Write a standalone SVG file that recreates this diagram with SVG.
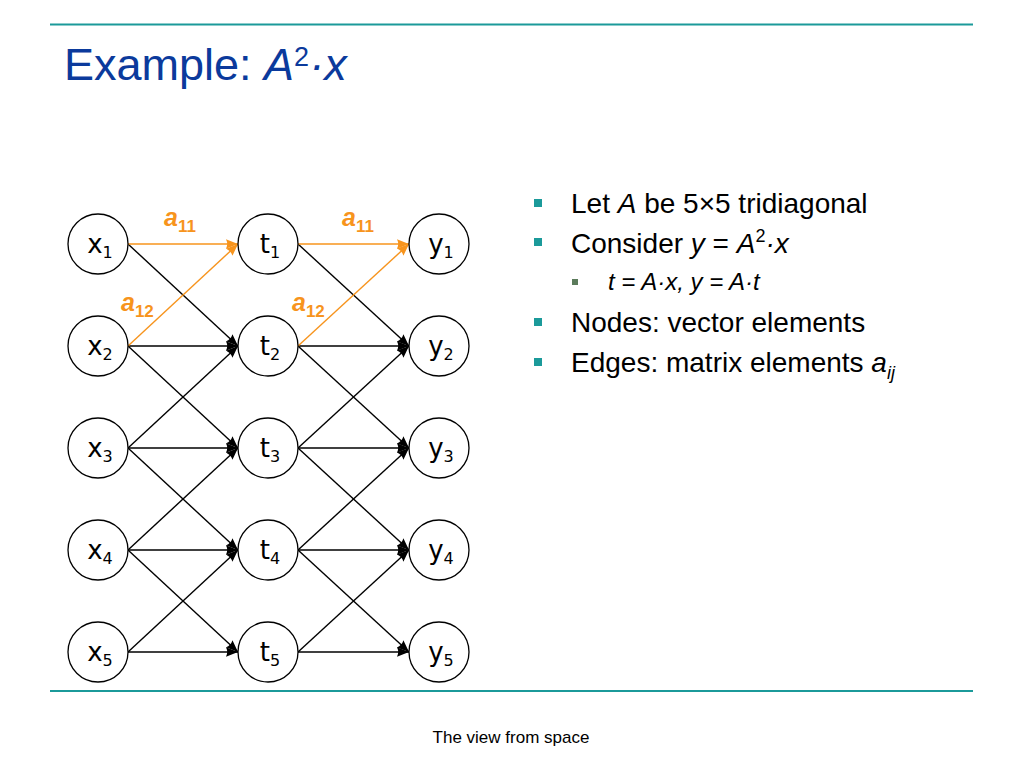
<svg xmlns="http://www.w3.org/2000/svg" width="1024" height="768" viewBox="0 0 1024 768">
<style>
.rule{stroke:#1b9a9a;stroke-width:2.2}
.node{fill:#fff;stroke:#000;stroke-width:1.3}
.nl{font-family:"DejaVu Sans",Verdana,sans-serif;font-size:26px;fill:#000;text-anchor:middle}
.sub{font-size:16px}
.e{stroke:#000;stroke-width:1.4;fill:none;marker-end:url(#ab)}
.o{stroke:#f7941d;stroke-width:1.4;fill:none;marker-end:url(#ao)}
.lab{font-family:"Liberation Sans",Arial,sans-serif;font-weight:bold;font-style:italic;fill:#f7941d;font-size:25px}
.lab .s{font-size:17px;font-style:normal}
.title{font-family:"Liberation Sans",Arial,sans-serif;font-size:45px;fill:#0b3a9c}
.b{font-family:"Liberation Sans",Arial,sans-serif;font-size:28px;fill:#000}
.sb{font-family:"Liberation Sans",Arial,sans-serif;font-size:24px;fill:#000;font-style:italic}
.i{font-style:italic}
.foot{font-family:"Liberation Sans",Arial,sans-serif;font-size:17px;fill:#000;text-anchor:middle}
</style>
<defs>
<marker id="ab" markerUnits="userSpaceOnUse" markerWidth="12" markerHeight="12" viewBox="0 0 10 10" refX="10" refY="5" orient="auto"><path d="M0,1 L10,5 L0,9 Q2,5 0,1 Z" fill="#000"/></marker>
<marker id="ao" markerUnits="userSpaceOnUse" markerWidth="12" markerHeight="12" viewBox="0 0 10 10" refX="10" refY="5" orient="auto"><path d="M0,1 L10,5 L0,9 Q2,5 0,1 Z" fill="#f7941d"/></marker>
</defs>
<rect width="1024" height="768" fill="#fff"/>
<line class="rule" x1="50" y1="24.5" x2="973" y2="24.5"/>
<line class="rule" x1="50" y1="691" x2="973" y2="691"/>
<text class="title" x="64" y="80">Example: <tspan class="i">A</tspan><tspan font-size="27" dy="-14">2</tspan><tspan class="i" dy="14">·x</tspan></text>

<g id="connectors">
<line class="e" x1="128" y1="244" x2="238" y2="346"/>
<line class="e" x1="128" y1="346" x2="238" y2="346"/>
<line class="e" x1="128" y1="346" x2="238" y2="448"/>
<line class="e" x1="128" y1="448" x2="238" y2="346"/>
<line class="e" x1="128" y1="448" x2="238" y2="448"/>
<line class="e" x1="128" y1="448" x2="238" y2="550"/>
<line class="e" x1="128" y1="550" x2="238" y2="448"/>
<line class="e" x1="128" y1="550" x2="238" y2="550"/>
<line class="e" x1="128" y1="550" x2="238" y2="652"/>
<line class="e" x1="128" y1="652" x2="238" y2="550"/>
<line class="e" x1="128" y1="652" x2="238" y2="652"/>
<line class="o" x1="128" y1="244" x2="238" y2="244"/>
<line class="o" x1="128" y1="346" x2="238" y2="244"/>
<line class="e" x1="298" y1="244" x2="409" y2="346"/>
<line class="e" x1="298" y1="346" x2="409" y2="346"/>
<line class="e" x1="298" y1="346" x2="409" y2="448"/>
<line class="e" x1="298" y1="448" x2="409" y2="346"/>
<line class="e" x1="298" y1="448" x2="409" y2="448"/>
<line class="e" x1="298" y1="448" x2="409" y2="550"/>
<line class="e" x1="298" y1="550" x2="409" y2="448"/>
<line class="e" x1="298" y1="550" x2="409" y2="550"/>
<line class="e" x1="298" y1="550" x2="409" y2="652"/>
<line class="e" x1="298" y1="652" x2="409" y2="550"/>
<line class="e" x1="298" y1="652" x2="409" y2="652"/>
<line class="o" x1="298" y1="244" x2="409" y2="244"/>
<line class="o" x1="298" y1="346" x2="409" y2="244"/>
<text class="lab" x="164" y="226">a<tspan class="s" dy="6">11</tspan></text>
<text class="lab" x="121" y="311">a<tspan class="s" dy="6">12</tspan></text>
<text class="lab" x="342" y="226">a<tspan class="s" dy="6">11</tspan></text>
<text class="lab" x="292" y="311">a<tspan class="s" dy="6">12</tspan></text>
</g>

<g id="x1"><circle class="node" cx="98" cy="244" r="30"/><text class="nl" x="100" y="253">x<tspan class="sub" dy="5">1</tspan></text></g>
<g id="x2"><circle class="node" cx="98" cy="346" r="30"/><text class="nl" x="100" y="355">x<tspan class="sub" dy="5">2</tspan></text></g>
<g id="x3"><circle class="node" cx="98" cy="448" r="30"/><text class="nl" x="100" y="457">x<tspan class="sub" dy="5">3</tspan></text></g>
<g id="x4"><circle class="node" cx="98" cy="550" r="30"/><text class="nl" x="100" y="559">x<tspan class="sub" dy="5">4</tspan></text></g>
<g id="x5"><circle class="node" cx="98" cy="652" r="30"/><text class="nl" x="100" y="661">x<tspan class="sub" dy="5">5</tspan></text></g>
<g id="t1"><circle class="node" cx="268" cy="244" r="30"/><text class="nl" x="270" y="253">t<tspan class="sub" dy="5">1</tspan></text></g>
<g id="t2"><circle class="node" cx="268" cy="346" r="30"/><text class="nl" x="270" y="355">t<tspan class="sub" dy="5">2</tspan></text></g>
<g id="t3"><circle class="node" cx="268" cy="448" r="30"/><text class="nl" x="270" y="457">t<tspan class="sub" dy="5">3</tspan></text></g>
<g id="t4"><circle class="node" cx="268" cy="550" r="30"/><text class="nl" x="270" y="559">t<tspan class="sub" dy="5">4</tspan></text></g>
<g id="t5"><circle class="node" cx="268" cy="652" r="30"/><text class="nl" x="270" y="661">t<tspan class="sub" dy="5">5</tspan></text></g>
<g id="y1"><circle class="node" cx="439" cy="244" r="30"/><text class="nl" x="441" y="253">y<tspan class="sub" dy="5">1</tspan></text></g>
<g id="y2"><circle class="node" cx="439" cy="346" r="30"/><text class="nl" x="441" y="355">y<tspan class="sub" dy="5">2</tspan></text></g>
<g id="y3"><circle class="node" cx="439" cy="448" r="30"/><text class="nl" x="441" y="457">y<tspan class="sub" dy="5">3</tspan></text></g>
<g id="y4"><circle class="node" cx="439" cy="550" r="30"/><text class="nl" x="441" y="559">y<tspan class="sub" dy="5">4</tspan></text></g>
<g id="y5"><circle class="node" cx="439" cy="652" r="30"/><text class="nl" x="441" y="661">y<tspan class="sub" dy="5">5</tspan></text></g>

<g id="bullets">
<rect x="534" y="199" width="8" height="8" fill="#1b9a9a"/>
<text class="b" x="571" y="213">Let <tspan class="i">A</tspan> be 5×5 tridiagonal</text>
<rect x="534" y="238" width="8" height="8" fill="#1b9a9a"/>
<text class="b" x="571" y="253">Consider <tspan class="i">y</tspan> = <tspan class="i">A</tspan><tspan font-size="18" dy="-11">2</tspan><tspan class="i" dy="11">·x</tspan></text>
<rect x="572" y="279" width="6" height="6" fill="#5b7b5b"/>
<text class="sb" x="608" y="290">t = A·x, y = A·t</text>
<rect x="534" y="318" width="8" height="8" fill="#1b9a9a"/>
<text class="b" x="571" y="332">Nodes: vector elements</text>
<rect x="534" y="358" width="8" height="8" fill="#1b9a9a"/>
<text class="b" x="571" y="372">Edges: matrix elements <tspan class="i">a</tspan><tspan class="i" font-size="18" dy="7">ij</tspan></text>
</g>
<text class="foot" x="511" y="743">The view from space</text>
</svg>
